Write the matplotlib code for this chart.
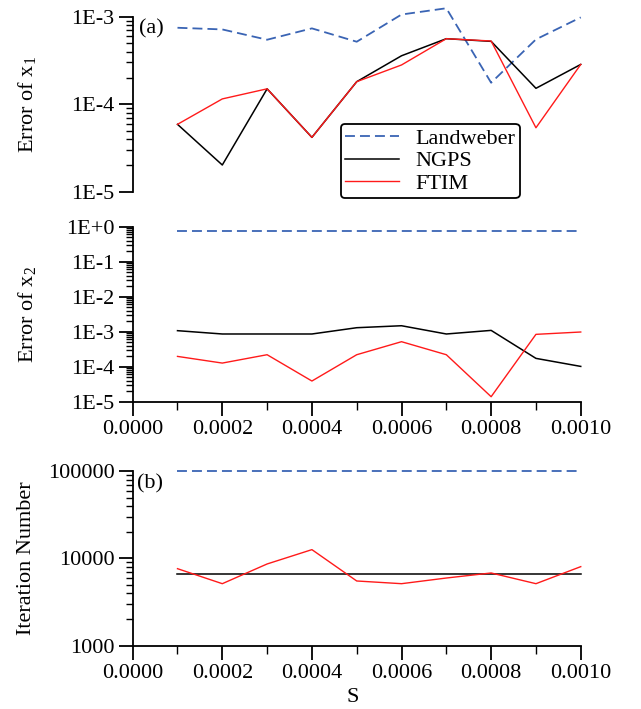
import numpy as np
import matplotlib
matplotlib.use('Agg')
from matplotlib import pyplot as plt
from matplotlib.ticker import FixedLocator, LogLocator, NullFormatter, FuncFormatter

plt.rcParams['font.family'] = ['Liberation Serif', 'DejaVu Serif']
plt.rcParams['font.size'] = 16
plt.rcParams['mathtext.fontset'] = 'stix'

# step size S
s = [0.0001, 0.0002, 0.0003, 0.0004, 0.0005, 0.0006, 0.0007, 0.0008, 0.0009, 0.0010]

# error of x1
x1_landweber = [7.48e-4, 7.16e-4, 5.46e-4, 7.36e-4, 5.18e-4, 1.06e-3, 1.25e-3, 1.76e-4, 5.51e-4, 9.83e-4]
x1_ngps = [5.89e-5, 2.02e-5, 1.50e-4, 4.18e-5, 1.81e-4, 3.58e-4, 5.61e-4, 5.23e-4, 1.52e-4, 2.85e-4]
x1_ftim = [5.89e-5, 1.15e-4, 1.50e-4, 4.18e-5, 1.81e-4, 2.81e-4, 5.61e-4, 5.28e-4, 5.38e-5, 2.85e-4]

# error of x2
x2_landweber = [0.75, 0.75, 0.75, 0.75, 0.75, 0.75, 0.75, 0.75, 0.75, 0.75]
x2_ngps = [1.07e-3, 8.6e-4, 8.6e-4, 8.6e-4, 1.3e-3, 1.48e-3, 8.6e-4, 1.09e-3, 1.73e-4, 1.02e-4]
x2_ftim = [1.97e-4, 1.27e-4, 2.2e-4, 3.9e-5, 2.2e-4, 5.18e-4, 2.2e-4, 1.39e-5, 8.4e-4, 9.8e-4]

# iteration number
it_landweber = [100000] * 10
it_ngps = [6700] * 10
it_ftim = [7640, 5140, 8650, 12630, 5520, 5140, 5970, 6820, 5140, 8060]

x_major = [0.0, 0.0002, 0.0004, 0.0006, 0.0008, 0.0010]
x_minor = [0.0001, 0.0003, 0.0005, 0.0007, 0.0009]
x_labels = ['0.0000', '0.0002', '0.0004', '0.0006', '0.0008', '0.0010']

blue = '#3a64b4'
red = '#ff1a1a'

fig = plt.figure(figsize=(6.41, 7.09), dpi=100)
ax1 = fig.add_axes([0.207, 0.7296, 0.699, 0.2468])
ax2 = fig.add_axes([0.207, 0.4334, 0.699, 0.2469])
ax3 = fig.add_axes([0.207, 0.0893, 0.699, 0.2460])


def style_axis(ax, ylim, yticks, ylabels, show_x=True):
    ax.set_yscale('log')
    ax.set_xlim(0, 0.001)
    ax.set_ylim(*ylim)
    for side in ['top', 'right']:
        ax.spines[side].set_visible(False)
    ax.spines['left'].set_linewidth(1.3)
    ax.spines['bottom'].set_linewidth(1.3)
    ax.yaxis.set_major_locator(FixedLocator(yticks))
    ax.yaxis.set_major_formatter(FuncFormatter(lambda v, p: ylabels[yticks.index(v)] if v in yticks else ''))
    ax.yaxis.set_minor_locator(LogLocator(base=10, subs=np.arange(2, 10), numticks=100))
    ax.yaxis.set_minor_formatter(NullFormatter())
    ax.tick_params(axis='y', which='major', direction='out', length=10, width=1.3, pad=3)
    ax.tick_params(axis='y', which='minor', direction='out', length=5, width=1.0)
    if show_x:
        ax.xaxis.set_major_locator(FixedLocator(x_major))
        ax.xaxis.set_minor_locator(FixedLocator(x_minor))
        ax.set_xticklabels(x_labels)
        ax.tick_params(axis='x', which='major', direction='out', length=10, width=1.3, pad=3)
        ax.tick_params(axis='x', which='minor', direction='out', length=6, width=1.0)
    else:
        ax.spines['bottom'].set_visible(False)
        ax.set_xticks([])


def draw(ax, lw_vals, ng_vals, ft_vals):
    l1, = ax.plot(s, lw_vals, color=blue, lw=1.3, dashes=(5.5, 2.8), label='Landweber', clip_on=False)
    l2, = ax.plot(s, ng_vals, color='black', lw=1.1, label='NGPS', clip_on=False)
    l3, = ax.plot(s, ft_vals, color=red, lw=1.0, label='FTIM', clip_on=False)
    return [l1, l2, l3]


handles = draw(ax1, x1_landweber, x1_ngps, x1_ftim)
style_axis(ax1, (1e-5, 1e-3), [1e-5, 1e-4, 1e-3], ['1E-5', '1E-4', '1E-3'], show_x=False)
ax1.set_ylabel('Error of x$_\\mathregular{1}$')
ax1.yaxis.set_label_coords(-0.212, 0.5)
ax1.text(0.015, 0.93, '(a)', transform=ax1.transAxes, va='center')

draw(ax2, x2_landweber, x2_ngps, x2_ftim)
style_axis(ax2, (1e-5, 1.0), [1e-5, 1e-4, 1e-3, 1e-2, 1e-1, 1.0],
           ['1E-5', '1E-4', '1E-3', '1E-2', '1E-1', '1E+0'])
ax2.set_ylabel('Error of x$_\\mathregular{2}$')
ax2.yaxis.set_label_coords(-0.212, 0.5)

draw(ax3, it_landweber, it_ngps, it_ftim)
style_axis(ax3, (1000, 100000), [1000, 10000, 100000], ['1000', '10000', '100000'])
ax3.set_ylabel('Iteration Number')
ax3.yaxis.set_label_coords(-0.215, 0.5)
ax3.set_xlabel('S')
ax3.xaxis.set_label_coords(0.49, -0.245)
ax3.text(0.01, 0.93, '(b)', transform=ax3.transAxes, va='center')

leg = fig.legend(handles=handles, loc='upper left', bbox_to_anchor=(341 / 641, 1 - 124 / 709),
                 frameon=True, fancybox=True, edgecolor='black', framealpha=1,
                 handlelength=2.4, handletextpad=0.75, borderpad=0.2, labelspacing=0.08,
                 borderaxespad=0)
leg.get_frame().set_linewidth(1.3)

fig.savefig('out.png', dpi=100)
